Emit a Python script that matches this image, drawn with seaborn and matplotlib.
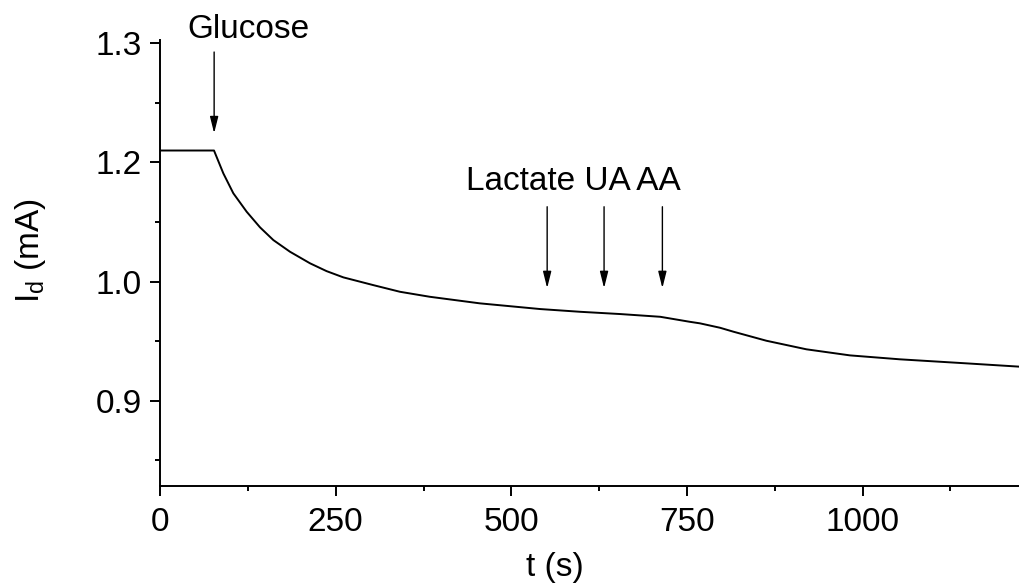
import numpy as np
import pandas as pd
import matplotlib
matplotlib.use("Agg")
import matplotlib.pyplot as plt
from matplotlib.ticker import FixedLocator, FormatStrFormatter
import seaborn as sns

# ---- data ----
time_s = [0, 40, 76.8, 90.1, 104.3, 123.3, 142.3, 161.3, 185, 213.5, 237, 260.9,
          303.5, 341.5, 384, 455, 541, 598, 655, 712, 754, 768.5, 797, 816,
          863, 920, 982, 1053, 1148, 1224]
current_mA = [1.210, 1.210, 1.210, 1.1816, 1.1482, 1.1172, 1.091, 1.0696, 1.050,
              1.0306, 1.0175, 1.007, 0.997, 0.9914, 0.9872, 0.9817, 0.9769,
              0.9746, 0.9727, 0.9704, 0.9662, 0.9649, 0.9612, 0.9579, 0.9503,
              0.9431, 0.938, 0.9347, 0.9313, 0.9285]

event_times = [77, 551, 632, 715]
x_ticks = [0, 250, 500, 750, 1000]
y_ticks = [0.9, 1.0, 1.2, 1.3]

df = pd.DataFrame({"t": time_s, "I": current_mA})

# y-axis of the original: equally spaced ticks labelled 1.3, 1.2, 1.0, 0.9
def fwd(y):
    y = np.asarray(y, dtype=float)
    return np.where(y >= 1.2, y, np.where(y >= 1.0, 1.1 + (y - 1.0) * 0.5, y + 0.1))

def inv(p):
    p = np.asarray(p, dtype=float)
    return np.where(p >= 1.2, p, np.where(p >= 1.1, 1.0 + (p - 1.1) * 2.0, p - 0.1))

sns.set_theme(style="ticks")
plt.rcParams["font.family"] = ["Liberation Sans", "DejaVu Sans"]
plt.rcParams["mathtext.fontset"] = "custom"
plt.rcParams["mathtext.rm"] = "Liberation Sans"
plt.rcParams["mathtext.it"] = "Liberation Sans"
plt.rcParams["text.color"] = "black"
plt.rcParams["axes.labelcolor"] = "black"
plt.rcParams["xtick.color"] = "black"
plt.rcParams["ytick.color"] = "black"

fig = plt.figure(figsize=(10.2, 5.88), dpi=100)
ax = fig.add_axes([0.1569, 0.174, 0.8431, 0.758])
ax.set_yscale("function", functions=(fwd, inv))

sns.lineplot(data=df, x="t", y="I", ax=ax, color="black", lw=1.4)

ax.set_xlim(0, 1224)
ax.set_ylim(0.8286, 1.3028)
ax.xaxis.set_major_locator(FixedLocator(x_ticks))
ax.xaxis.set_minor_locator(FixedLocator([125, 375, 625, 875, 1125]))
ax.yaxis.set_major_locator(FixedLocator(y_ticks))
ax.yaxis.set_minor_locator(FixedLocator([0.85, 0.95, 1.1, 1.25]))
ax.yaxis.set_major_formatter(FormatStrFormatter("%.1f"))
ax.xaxis.set_major_formatter(FormatStrFormatter("%d"))

for side in ["top", "right"]:
    ax.spines[side].set_visible(False)
for side in ["left", "bottom"]:
    ax.spines[side].set_linewidth(1.4)
    ax.spines[side].set_color("black")

ax.tick_params(which="major", direction="out", length=7.2, width=1.4,
               labelsize=24, colors="black", labelcolor="black", pad=6)
ax.tick_params(axis="x", which="major", pad=8)
ax.tick_params(which="minor", direction="out", length=3.6, width=1.4, colors="black")

ax.set_xlabel("t (s)", fontsize=24, color="black")
ax.set_ylabel(r"$\mathregular{I_d}$ (mA)", fontsize=24, color="black")
ax.xaxis.label.set_va("center")
ax.xaxis.set_label_coords(0.459, -0.184)
ax.yaxis.label.set_va("center")
ax.yaxis.set_label_coords(-0.151, 0.527)

arrow_kw = dict(arrowstyle="-|>,head_length=1.0,head_width=0.25", lw=1.0,
                color="black", shrinkA=0, shrinkB=0, mutation_scale=10)
ax.annotate("", xy=(event_times[0], 1.2245), xytext=(event_times[0], 1.2927),
            arrowprops=arrow_kw)
for t in event_times[1:]:
    ax.annotate("", xy=(t, 0.9945), xytext=(t, 1.1256), arrowprops=arrow_kw)

ax.text(126, 1.3042, "Glucose", fontsize=24, ha="center", va="baseline", color="black")
ax.text(588, 1.1536, "Lactate UA AA", fontsize=24, ha="center", va="baseline", color="black")

fig.savefig("out.png", dpi=100)
